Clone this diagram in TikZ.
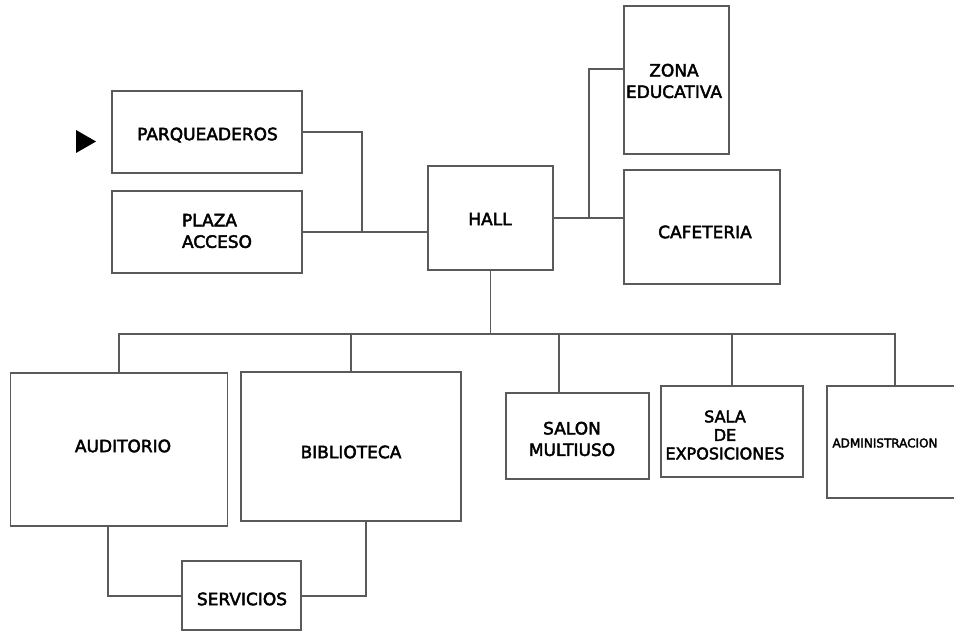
\documentclass[tikz,border=0pt]{standalone}
\usepackage{fontspec}
\setmainfont[FakeBold=2.6]{DejaVu Sans}
\begin{document}
\begin{tikzpicture}[x=1pt,y=-1pt,
  box/.style={draw=linegray,line width=1.3pt,fill=white,inner sep=0pt},
  lbl/.style={inner sep=0pt,font=\fontsize{17}{21.5}\selectfont,align=center,text=black},
  conn/.style={draw=linegray,line width=1.3pt}]
\definecolor{linegray}{HTML}{5A5A5A}
\useasboundingbox (0,0) rectangle (954,631);
% boxes
\node[box,minimum width=190pt,minimum height=82pt] (parq) at (207,132) {};
\node[box,minimum width=190pt,minimum height=82pt] (plaza) at (207,232) {};
\node[box,minimum width=125pt,minimum height=104pt] (hall) at (490.5,218) {};
\node[box,minimum width=105pt,minimum height=148pt] (zona) at (676.5,80) {};
\node[box,minimum width=156pt,minimum height=114pt] (cafe) at (702,227) {};
\node[box,minimum width=217pt,minimum height=153pt] (aud) at (119,449.5) {};
\node[box,minimum width=220pt,minimum height=149pt] (bib) at (351,446.5) {};
\node[box,minimum width=119pt,minimum height=69pt] (serv) at (241.5,595.5) {};
\node[box,minimum width=143pt,minimum height=86pt] (salon) at (577.5,436) {};
\node[box,minimum width=142pt,minimum height=91pt] (sala) at (732,431.5) {};
\node[box,minimum width=130pt,minimum height=112pt] (admin) at (892,442) {};
% labels
\node[lbl] (tparq) at (207.5,135) {PARQUEADEROS};
\node[lbl,align=left] (tplaza) at (217,231) {PLAZA\\ACCESO};
\node[lbl] (thall) at (490,219) {HALL};
\node[lbl] (tzona) at (674,81) {ZONA\\EDUCATIVA};
\node[lbl] (tcafe) at (705,232) {CAFETERIA};
\node[lbl] (taud) at (123,446) {AUDITORIO};
\node[lbl] (tbib) at (351,452) {BIBLIOTECA};
\node[lbl] (tserv) at (242,599) {SERVICIOS};
\node[lbl] (tsalon) at (572,439) {SALON\\MULTIUSO};
\node[lbl,font=\fontsize{16}{18.5}\selectfont] (tsala) at (725,435) {SALA\\DE\\EXPOSICIONES};
\node[lbl,font=\fontsize{12}{14}\selectfont] (tadmin) at (885,443) {ADMINISTRACION};
% arrow marker
\fill[black] (76,130) -- (96,141.5) -- (76,153) -- cycle;
% junctions
\coordinate (j1) at (362,232);
\coordinate (j2) at (589,218);
\coordinate (j3) at (589,69);
\coordinate (bus) at (490.5,334);
\coordinate (busl) at (119,334);
\coordinate (busr) at (895,334);
\coordinate (dsalon) at (559,334);
\coordinate (dadmin) at (895,334);
\coordinate (saud) at (108,596);
\coordinate (sbib) at (366,596);
% connectors
\draw[conn] (parq.east) -| (j1);
\draw[conn] (plaza.east) -- (plaza.east -| hall.west);
\draw[conn] (hall.east) -- (hall.east -| cafe.west);
\draw[conn] (j2) -- (j3) -- (j3 -| zona.west);
\draw[conn] (hall.south) -- (bus);
\draw[conn] (aud.north) -- (busl) -- (busr) -- (dadmin |- admin.north);
\draw[conn] (bib.north |- bus) -- (bib.north);
\draw[conn] (dsalon) -- (dsalon |- salon.north);
\draw[conn] (sala.north |- bus) -- (sala.north);
\draw[conn] (saud |- aud.south) -- (saud) -- (serv.west |- saud);
\draw[conn] (sbib |- bib.south) -- (sbib) -- (serv.east |- sbib);
\end{tikzpicture}
\end{document}
